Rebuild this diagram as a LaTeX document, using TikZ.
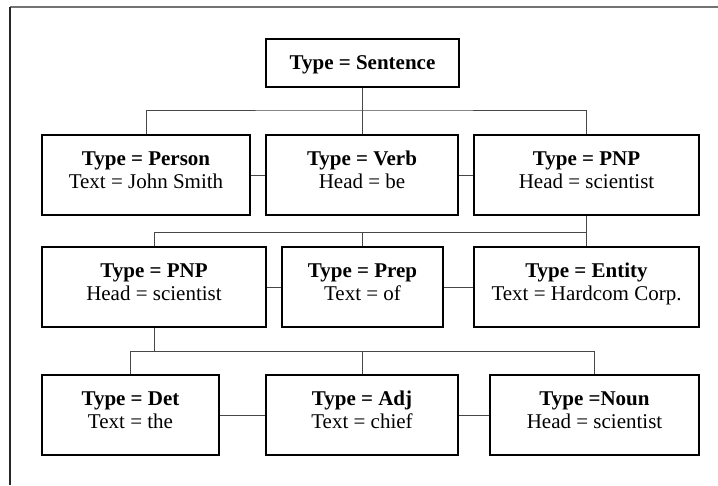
\documentclass[tikz,border=0pt]{standalone}
\usepackage{fontspec}
\setmainfont{Liberation Serif}
\begin{document}
\begin{tikzpicture}[x=1pt,y=-1pt,
  box/.style={draw=black,line width=1.8pt,fill=none,inner sep=0pt},
  lbl/.style={anchor=base,inner sep=0pt,font=\fontsize{21}{23}\selectfont},
  conn/.style={draw=black!72,line width=1pt},
  frame/.style={line width=1.4pt}]
\useasboundingbox (0,0) rectangle (718,485);
% outer frame (top and left only)
\draw[frame,draw=black!55] (718,7) -- (10,7);
\draw[frame,draw=black!85] (10,7) -- (10,485);
% box macro-like definitions: corners in pixel coordinates
\node[box,minimum width=193pt,minimum height=48pt] (sent) at (362.5,63) {};
\node[box,minimum width=208pt,minimum height=80pt] (person) at (146,175) {};
\node[box,minimum width=192pt,minimum height=80pt] (verb) at (362,175) {};
\node[box,minimum width=225pt,minimum height=80pt] (pnpa) at (586.5,175) {};
\node[box,minimum width=224pt,minimum height=80pt] (pnpb) at (154,287) {};
\node[box,minimum width=161pt,minimum height=80pt] (prep) at (362.5,287) {};
\node[box,minimum width=225pt,minimum height=80pt] (entity) at (586.5,287) {};
\node[box,minimum width=177pt,minimum height=80pt] (det) at (130.5,415) {};
\node[box,minimum width=192pt,minimum height=80pt] (adj) at (362,415) {};
\node[box,minimum width=209pt,minimum height=80pt] (noun) at (594.5,415) {};
% labels
\node[lbl] (tsent) at ([yshift=-31pt]sent.north) {\textbf{Type = Sentence}};
\node[lbl] (tperson1) at ([yshift=-31pt]person.north) {\textbf{Type = Person}};
\node[lbl] (tperson2) at ([yshift=-54pt]person.north) {Text = John Smith};
\node[lbl] (tverb1) at ([yshift=-31pt]verb.north) {\textbf{Type = Verb}};
\node[lbl] (tverb2) at ([yshift=-54pt]verb.north) {Head = be};
\node[lbl] (tpnpa1) at ([yshift=-31pt]pnpa.north) {\textbf{Type = PNP}};
\node[lbl] (tpnpa2) at ([yshift=-54pt]pnpa.north) {Head = scientist};
\node[lbl] (tpnpb1) at ([yshift=-31pt]pnpb.north) {\textbf{Type = PNP}};
\node[lbl] (tpnpb2) at ([yshift=-54pt]pnpb.north) {Head = scientist};
\node[lbl] (tprep1) at ([yshift=-31pt]prep.north) {\textbf{Type = Prep}};
\node[lbl] (tprep2) at ([yshift=-54pt]prep.north) {Text = of};
\node[lbl] (tentity1) at ([yshift=-31pt]entity.north) {\textbf{Type = Entity}};
\node[lbl] (tentity2) at ([yshift=-54pt]entity.north) {Text = Hardcom Corp.};
\node[lbl] (tdet1) at ([yshift=-31pt]det.north) {\textbf{Type = Det}};
\node[lbl] (tdet2) at ([yshift=-54pt]det.north) {Text = the};
\node[lbl] (tadj1) at ([yshift=-31pt]adj.north) {\textbf{Type = Adj}};
\node[lbl] (tadj2) at ([yshift=-54pt]adj.north) {Text = chief};
\node[lbl] (tnoun1) at ([yshift=-31pt]noun.north) {\textbf{Type =Noun}};
\node[lbl] (tnoun2) at ([yshift=-54pt]noun.north) {Head = scientist};
% bus coordinates
\coordinate (b1) at (362,110);
\coordinate (b2) at (586.5,232);
\coordinate (b3) at (154,351);
% connectors level 1
\draw[conn] (sent.south) -- (sent.south |- b1);
\draw[conn] (person.north) |- (b1) -| (pnpa.north);
\draw[conn] (verb.north) -- (verb.north |- b1);
\draw[conn] (person.east) -- (verb.west);
\draw[conn] (verb.east) -- (pnpa.west);
% connectors level 2
\draw[conn] (pnpa.south) -- (b2);
\draw[conn] (pnpb.north) |- (b2) -- (entity.north);
\draw[conn] (prep.north) -- (prep.north |- b2);
\draw[conn] (pnpb.east) -- (prep.west);
\draw[conn] (prep.east) -- (entity.west);
% connectors level 3
\draw[conn] (pnpb.south) -- (b3);
\draw[conn] (det.north) |- (noun.north |- b3) -- (noun.north);
\draw[conn] (adj.north) -- (adj.north |- b3);
\draw[conn] (det.east) -- (adj.west);
\draw[conn] (adj.east) -- (noun.west);
\end{tikzpicture}
\end{document}
